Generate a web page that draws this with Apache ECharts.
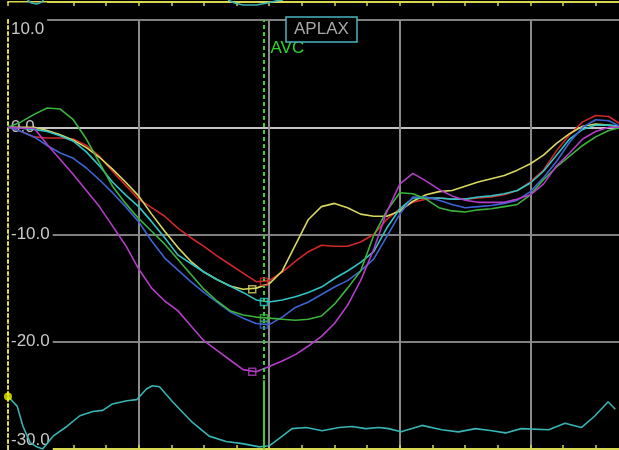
<!DOCTYPE html>
<html>
<head>
<meta charset="utf-8">
<script src="https://cdn.jsdelivr.net/npm/echarts@6/dist/echarts.min.js"></script>
<style>
  html, body { margin: 0; padding: 0; background: #000; }
  #chart { width: 619px; height: 450px; }
</style>
</head>
<body>
<div id="chart"></div>
<script>
// Sample times (ms) shared by the six segment strain curves
const timeMs = [0, 20, 40, 60, 80, 100, 120, 140, 160, 180, 200, 220, 240, 260, 280, 300,
  320, 340, 360, 380, 400, 420, 440, 460, 480, 500, 520, 540, 560, 580, 600, 620,
  640, 660, 680, 700, 720, 740, 760, 780, 800, 820, 840, 860, 880, 900, 920, 940];

// Longitudinal strain (%) per segment
const strainRed = [0.0, -0.4, -0.9, -1.0, -1.0, -1.1, -1.7, -2.7, -4.1, -5.4, -6.7, -7.5, -8.3, -9.4, -10.3, -11.1,
  -12.0, -12.8, -13.6, -14.4, -14.3, -13.5, -12.5, -11.6, -11.0, -11.1, -11.1, -10.7, -10.0, -8.6, -7.6, -7.0,
  -6.7, -6.6, -6.7, -6.7, -6.6, -6.5, -6.3, -5.9, -5.1, -4.0, -2.2, -0.7, 0.5, 1.1, 1.0, 0.2];
const strainYellow = [0.0, 0.0, 0.0, -0.3, -0.7, -1.2, -1.9, -2.8, -3.9, -5.1, -6.4, -8.1, -9.7, -11.2, -12.5, -13.5,
  -14.2, -14.8, -15.1, -15.0, -14.6, -13.4, -11.0, -8.6, -7.4, -7.1, -7.5, -8.1, -8.3, -8.3, -7.8, -6.9,
  -6.3, -6.0, -5.9, -5.5, -5.1, -4.8, -4.5, -4.0, -3.4, -2.6, -1.5, -0.6, 0.1, 0.3, 0.2, 0.0];
const strainCyan = [0.0, -0.1, -0.2, -0.4, -0.8, -1.3, -2.3, -3.6, -5.1, -6.3, -7.4, -8.8, -10.3, -11.9, -12.7, -13.5,
  -14.2, -14.8, -15.4, -16.1, -16.3, -16.1, -15.8, -15.4, -14.9, -14.1, -13.4, -12.6, -11.6, -9.4, -7.6, -6.6,
  -6.6, -6.6, -6.7, -6.7, -6.5, -6.4, -6.2, -5.9, -5.2, -4.1, -2.6, -1.1, -0.2, 0.2, 0.2, 0.1];
const strainBlue = [0.0, -0.4, -0.9, -1.7, -2.4, -2.9, -3.8, -4.9, -6.1, -7.4, -8.8, -10.6, -12.2, -13.3, -14.4, -15.4,
  -16.3, -17.2, -17.8, -18.3, -18.4, -17.7, -16.8, -16.3, -15.6, -14.9, -14.3, -13.4, -12.3, -10.2, -8.1, -6.5,
  -6.5, -6.8, -7.2, -7.5, -7.4, -7.3, -7.1, -6.8, -6.0, -4.7, -3.2, -1.4, 0.0, 0.7, 0.6, 0.0];
const strainGreen = [0.0, 0.5, 1.2, 1.8, 1.7, 0.7, -1.1, -3.3, -5.5, -7.1, -8.5, -9.7, -10.9, -12.3, -13.7, -15.1,
  -16.2, -17.1, -17.5, -17.7, -17.8, -17.9, -18.0, -17.9, -17.6, -16.5, -15.0, -13.4, -10.1, -7.8, -6.1, -6.2,
  -6.7, -7.5, -7.8, -7.9, -7.7, -7.6, -7.4, -7.2, -6.3, -4.9, -3.7, -2.7, -1.7, -0.9, -0.3, 0.0];
const strainMagenta = [0.0, -0.1, -0.1, -1.6, -3.0, -4.4, -5.9, -7.4, -9.2, -11.0, -13.2, -15.0, -16.2, -17.1, -18.5, -19.9,
  -20.8, -21.7, -22.6, -22.8, -22.3, -21.8, -21.2, -20.4, -19.5, -18.3, -16.6, -14.3, -11.4, -7.9, -5.3, -4.3,
  -5.0, -5.8, -6.4, -6.8, -7.0, -7.0, -7.0, -6.7, -6.3, -5.3, -3.6, -2.4, -1.1, -0.4, 0.0, 0.0];

const segmentColors = ['#d02828', '#d8d860', '#30c4c4', '#3c64d2', '#3cb43c', '#b43cc8'];
const segmentStrains = [strainRed, strainYellow, strainCyan, strainBlue, strainGreen, strainMagenta];

// Peak systolic strain markers (time ms, strain %), one per segment
const markerTimes = [392, 374, 392, 392, 392, 374];
const markerValues = [-14.4, -15.1, -16.3, -18.4, -17.8, -22.8];

// ECG trace drawn along the bottom of the strain panel
const ecgTimes = [0, 14, 23, 34, 44, 53, 69, 90, 110, 130, 145, 160, 182, 197, 212, 221, 232, 252, 282, 308,
  334, 359, 385, 400, 420, 435, 457, 481, 507, 527, 548, 568, 583, 602, 634, 664, 690, 716, 741, 762,
  786, 828, 853, 878, 899, 919, 930];
const ecgValues = [-25.1, -26.0, -27.9, -29.4, -29.8, -30.0, -28.8, -27.9, -26.9, -26.5, -26.4, -25.8, -25.5, -25.4, -24.4, -24.1,
  -24.2, -25.6, -27.5, -28.8, -29.3, -29.5, -29.8, -29.7, -28.8, -28.1, -28.0, -28.3, -28.0, -27.9, -28.1, -28.0,
  -28.1, -28.4, -27.8, -28.2, -28.4, -28.1, -28.3, -28.5, -28.1, -28.2, -27.6, -28.0, -26.9, -25.6, -26.3];

// Lower edge of the upper trace strip (mostly out of view)
const stripTimes = [30, 36, 44, 52, 54, 337, 347, 360, 380, 397, 410, 421];
const stripValues = [0, -3, -4, -2, 0, 0, -3, -5, -5, -3, -1, 0];

// Aortic valve closure
const avcTime = 392;
const avcLabel = 'AVC';
const viewLabel = 'APLAX';

// Y axis ticks
const yTicks = [-30, -20, -10, 0, 10];

const pair = (xs, ys) => xs.map((x, i) => [x, ys[i]]);

const series = segmentStrains.map((vals, i) => ({
  type: 'line',
  data: pair(timeMs, vals),
  showSymbol: false,
  symbol: 'none',
  lineStyle: { color: segmentColors[i], width: 1.6 },
  z: 3
}));

series.push({
  type: 'line',
  data: pair(ecgTimes, ecgValues),
  showSymbol: false,
  symbol: 'none',
  lineStyle: { color: '#38b4b4', width: 1.6 },
  z: 3,
  markLine: {
    silent: true,
    symbol: ['none', 'none'],
    label: { show: false },
    data: [
      { xAxis: avcTime, lineStyle: { color: '#3ccc3c', width: 2, type: [4, 3] } },
      [
        { coord: [avcTime, -23.6], lineStyle: { color: '#3ccc3c', width: 2, type: 'solid' } },
        { coord: [avcTime, -30] }
      ]
    ]
  },
  markPoint: {
    silent: true,
    symbolSize: 0,
    label: {
      show: true, position: 'right', distance: 0,
      color: '#2ed22e', fontSize: 17, fontFamily: 'Liberation Sans'
    },
    data: [{ coord: [avcTime + 10, 7.4], value: avcLabel, label: { formatter: avcLabel } }]
  }
});

series.push({
  type: 'scatter',
  symbol: 'rect',
  symbolSize: 7,
  z: 5,
  data: markerTimes.map((t, i) => ({
    value: [t, markerValues[i]],
    itemStyle: { color: 'rgba(0,0,0,0)', borderColor: segmentColors[i], borderWidth: 1.5 }
  }))
});

series.push({
  type: 'scatter',
  symbol: 'circle',
  symbolSize: 8,
  z: 6,
  itemStyle: { color: '#f0f000' },
  data: [[ecgTimes[0], ecgValues[0]]]
});

// Upper strip trace: split into its two visible pieces
const stripData = pair(stripTimes, stripValues);
series.push({
  type: 'line',
  xAxisIndex: 2, yAxisIndex: 1,
  data: stripData.slice(0, 5).concat([[null, null]], stripData.slice(5)),
  connectNulls: false,
  showSymbol: false,
  symbol: 'none',
  lineStyle: { color: '#38b4b4', width: 1.6 },
  z: 4
});

const fmt = v => {
  const s = v.toFixed(1);
  if (v === yTicks[yTicks.length - 1]) return '{dn|' + s + '}';
  if (v === yTicks[0]) return '{up|' + s + '}';
  return '{mid|' + s + '}';
};

const yellowAxis = '#d8d850';

const option = {
  backgroundColor: '#000',
  animation: false,
  title: {
    text: viewLabel,
    left: 286, top: 17,
    padding: [4, 8],
    borderColor: '#48b4c0', borderWidth: 1.5,
    backgroundColor: '#000',
    textStyle: { color: '#a8a8a8', fontSize: 17, fontWeight: 'normal', fontFamily: 'Liberation Sans' }
  },
  grid: [
    { left: 8, right: -42, top: 20, bottom: 1, outerBoundsMode: 'none', containLabel: false },
    { left: 8, right: -42, top: 0, height: 20, outerBoundsMode: 'none', containLabel: false }
  ],
  xAxis: [{
    type: 'value', min: 0, max: 1000, interval: 200,
    axisLine: { show: true, onZero: false, lineStyle: { color: yellowAxis, width: 2 } },
    axisTick: { show: true, inside: true, length: 4, lineStyle: { color: yellowAxis, width: 1.5 } },
    minorTick: { show: true, splitNumber: 4, length: 4, lineStyle: { color: yellowAxis, width: 1.5 } },
    axisLabel: { show: false },
    splitLine: { show: true, lineStyle: { color: ['rgba(0,0,0,0)', '#8a8a8a', '#8a8a8a', '#8a8a8a', '#8a8a8a', '#8a8a8a'], width: 2 } }
  }, {
    type: 'value', min: 0, max: 1000, interval: 200, position: 'top', offset: 18,
    axisLine: { show: true, onZero: false, lineStyle: { color: yellowAxis, width: 2 } },
    axisTick: { show: true, inside: true, length: 4, lineStyle: { color: yellowAxis, width: 1.5 } },
    minorTick: { show: true, splitNumber: 4, length: 4, lineStyle: { color: yellowAxis, width: 1.5 } },
    axisLabel: { show: false },
    splitLine: { show: false }
  }, {
    gridIndex: 1, type: 'value', min: 0, max: 1000, show: false
  }],
  yAxis: [{
    type: 'value', min: -30, max: 10, interval: 10,
    axisLine: { show: true, onZero: false, lineStyle: { color: '#e0e040', width: 2, type: [3, 3] } },
    axisTick: { show: false },
    splitLine: { show: true, lineStyle: { color: ['#808080', '#808080', '#808080', '#c4c4c4', '#808080'], width: 2 } },
    axisLabel: {
      inside: true, margin: 1,
      color: '#c8c8c8', fontSize: 17, fontFamily: 'Liberation Sans',
      formatter: fmt,
      rich: {
        dn: { padding: [18, 3, 0, 2], backgroundColor: '#000', fontSize: 17, color: '#c8c8c8' },
        up: { padding: [0, 3, 18, 2], backgroundColor: '#000', fontSize: 17, color: '#c8c8c8' },
        mid: { padding: [0, 3, 0, 2], backgroundColor: '#000', fontSize: 17, color: '#c8c8c8' }
      }
    }
  }, {
    gridIndex: 1, type: 'value', min: -20, max: 0, show: false
  }],
  series: series
};

const chart = echarts.init(document.getElementById('chart'), null, { renderer: 'canvas' });
chart.setOption(option);
</script>
</body>
</html>
